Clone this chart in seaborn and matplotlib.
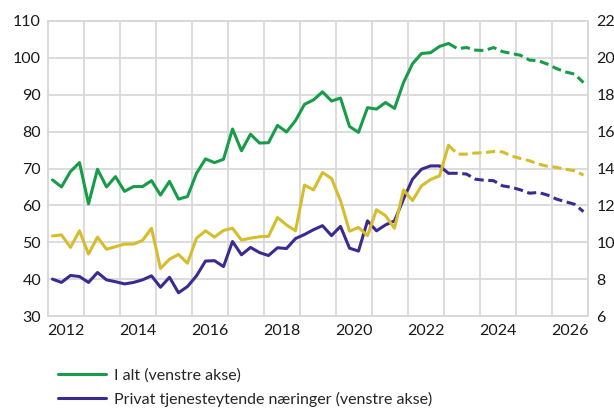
import numpy as np
import pandas as pd
import matplotlib
matplotlib.use("Agg")
import matplotlib.pyplot as plt
from matplotlib.lines import Line2D
import seaborn as sns

# quarterly data 2012K1 - 2026K4, last historic point 2023K1
years = list(range(2012, 2027))
i_alt = [66.9, 65.0, 69.2, 71.6,
         60.4, 69.8, 65.0, 67.8,
         63.8, 65.1, 65.1, 66.7,
         62.8, 66.5, 61.7, 62.4,
         68.7, 72.6, 71.6, 72.5,
         80.7, 74.8, 79.3, 76.9,
         77.0, 81.7, 79.9, 83.0,
         87.4, 88.6, 90.8, 88.3,
         89.1, 81.4, 79.8, 86.5,
         86.1, 87.9, 86.3, 93.3,
         98.4, 101.2, 101.4, 103.1,
         103.9, 102.5, 102.8, 102.1,
         102.0, 102.8, 101.7, 101.2,
         100.7, 99.4, 99.2, 98.3,
         97.1, 96.2, 95.6, 93.3]
privat = [40.0, 39.1, 41.0, 40.7,
          39.1, 41.8, 39.8, 39.3,
          38.7, 39.1, 39.8, 40.9,
          37.8, 40.5, 36.3, 38.0,
          40.9, 44.9, 45.0, 43.4,
          50.2, 46.6, 48.6, 47.2,
          46.4, 48.5, 48.3, 51.0,
          52.1, 53.4, 54.5, 51.8,
          54.3, 48.4, 47.6, 55.8,
          53.1, 54.7, 55.8, 61.7,
          67.1, 69.8, 70.7, 70.7,
          68.7, 68.7, 68.5, 67.1,
          66.8, 66.7, 65.3, 64.9,
          64.2, 63.3, 63.5, 62.8,
          61.7, 61.0, 60.3, 58.3]
# right axis
hoyre = [10.34, 10.4, 9.72, 10.62,
         9.36, 10.28, 9.62, 9.76,
         9.9, 9.9, 10.1, 10.76,
         8.58, 9.08, 9.34, 8.86,
         10.22, 10.62, 10.28, 10.64,
         10.76, 10.12, 10.22, 10.3,
         10.32, 11.34, 10.94, 10.62,
         13.1, 12.84, 13.78, 13.46,
         12.26, 10.6, 10.8, 10.36,
         11.76, 11.44, 10.76, 12.84,
         12.26, 13.06, 13.4, 13.6,
         15.26, 14.78, 14.78, 14.84,
         14.86, 14.92, 14.9, 14.68,
         14.54, 14.42, 14.24, 14.12,
         14.06, 13.96, 13.88, 13.64]
last_hist = 44  # index of 2023K1

green = "#179c48"
purple = "#3c2a91"
yellow = "#d6bd2c"
grid_c = "#d9d9d9"

x = [y + (q - 0.5) / 4 for y in years for q in range(1, 5)]
df = pd.DataFrame({"x": x, "ialt": i_alt, "privat": privat, "hoyre": hoyre})
hist = df.iloc[:last_hist + 1]
prog = df.iloc[last_hist:]

sns.set_style("white")
plt.rcParams["font.family"] = ["Lato", "DejaVu Sans"]

fig = plt.figure(figsize=(6.14, 4.08), dpi=100)
ax = fig.add_axes([48 / 614, 1 - 316 / 408, 540 / 614, 295 / 408])
ax2 = ax.twinx()

lw = 2.2
dash = (0, (3, 1.5))
sns.lineplot(data=hist, x="x", y="ialt", ax=ax, color=green, lw=lw)
sns.lineplot(data=prog, x="x", y="ialt", ax=ax, color=green, lw=lw, linestyle=dash)
sns.lineplot(data=hist, x="x", y="privat", ax=ax, color=purple, lw=lw)
sns.lineplot(data=prog, x="x", y="privat", ax=ax, color=purple, lw=lw, linestyle=dash)
sns.lineplot(data=hist, x="x", y="hoyre", ax=ax2, color=yellow, lw=lw)
sns.lineplot(data=prog, x="x", y="hoyre", ax=ax2, color=yellow, lw=lw, linestyle=dash)

fs = 11.5
ax.set_xlim(2012, 2027)
ax.set_ylim(30, 110)
ax2.set_ylim(6, 22)
ax.set_yticks(range(30, 111, 10))
ax2.set_yticks(range(6, 23, 2))
ax.set_xticks(range(2012, 2028), minor=False)
ax.set_xticklabels([])
ax.set_xticks([y + 0.5 for y in range(2012, 2027, 2)], minor=True)
ax.set_xticklabels([str(y) for y in range(2012, 2027, 2)], minor=True)
ax.grid(True, which="major", color=grid_c, lw=1.3)
ax.set_axisbelow(True)
ax.tick_params(which="both", length=0, labelsize=fs, colors="#1a1a1a")
ax.tick_params(axis="y", pad=5)
ax.tick_params(axis="x", which="minor", pad=6)
ax2.tick_params(length=0, labelsize=fs, colors="#1a1a1a", pad=6)
ax.set_xlabel("")
ax.set_ylabel("")
ax2.set_ylabel("")
for a in (ax, ax2):
    for s in a.spines.values():
        s.set_color(grid_c)
        s.set_linewidth(1.3)

handles = [Line2D([], [], color=green, lw=lw), Line2D([], [], color=purple, lw=lw)]
labels = ["I alt (venstre akse)", "Privat tjenesteytende næringer (venstre akse)"]
fig.legend(handles, labels, loc="upper left", bbox_to_anchor=(52 / 614, 1 - 362 / 408),
           frameon=False, fontsize=fs, handlelength=3.0, handletextpad=0.5,
           labelspacing=0.55, borderaxespad=0)

fig.savefig("out.png", dpi=100)
